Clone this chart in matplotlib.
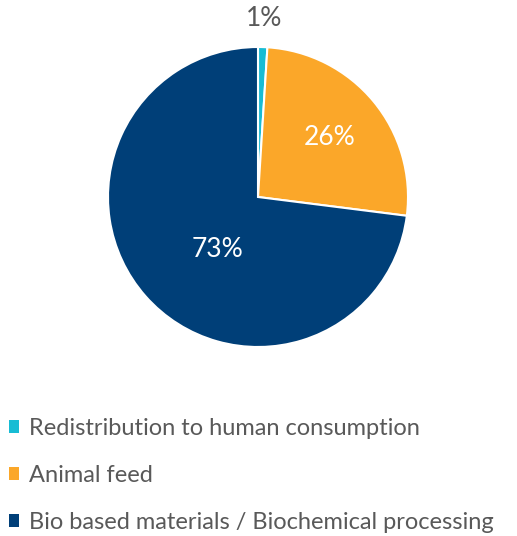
import numpy as np
import matplotlib.pyplot as plt
from matplotlib.patches import Patch

labels = ['Redistribution to human consumption', 'Animal feed',
          'Bio based materials / Biochemical processing']
shares = [1, 26, 73]
pct_text = ['1%', '26%', '73%']
colors = ['#17BCD4', '#FBA729', '#003F78']
label_r = [1.19, 0.62, 0.44]
label_col = ['#595959', 'white', 'white']

plt.rcParams['font.family'] = ['Lato', 'DejaVu Sans']

fig = plt.figure(figsize=(5.17, 5.36), dpi=100)
ax = fig.add_axes([108 / 517, 189 / 536, 300 / 517, 300 / 536])
wedges, _ = ax.pie(shares, colors=colors, startangle=90, counterclock=False,
                   radius=1, wedgeprops=dict(edgecolor='white', linewidth=1.5))
ax.set_xlim(-1, 1)
ax.set_ylim(-1, 1)
ax.set_aspect('equal')
ax.axis('off')

for w, t, r, c in zip(wedges, pct_text, label_r, label_col):
    ang = np.deg2rad((w.theta1 + w.theta2) / 2)
    if t == '73%':
        ang += np.deg2rad(11)
    ax.text(r * np.cos(ang), r * np.sin(ang), t, color=c, fontsize=19,
            ha='center', va='center', clip_on=False)

handles = [Patch(facecolor=c, edgecolor='none') for c in colors]
leg = fig.legend(handles, labels, loc='upper left', bbox_to_anchor=(0.0, 0.238),
                 frameon=False, fontsize=17.0, labelcolor='#595959',
                 handlelength=0.42, handleheight=0.42, handletextpad=0.4,
                 labelspacing=1.1, borderaxespad=0)

fig.savefig('out.png', dpi=100)
